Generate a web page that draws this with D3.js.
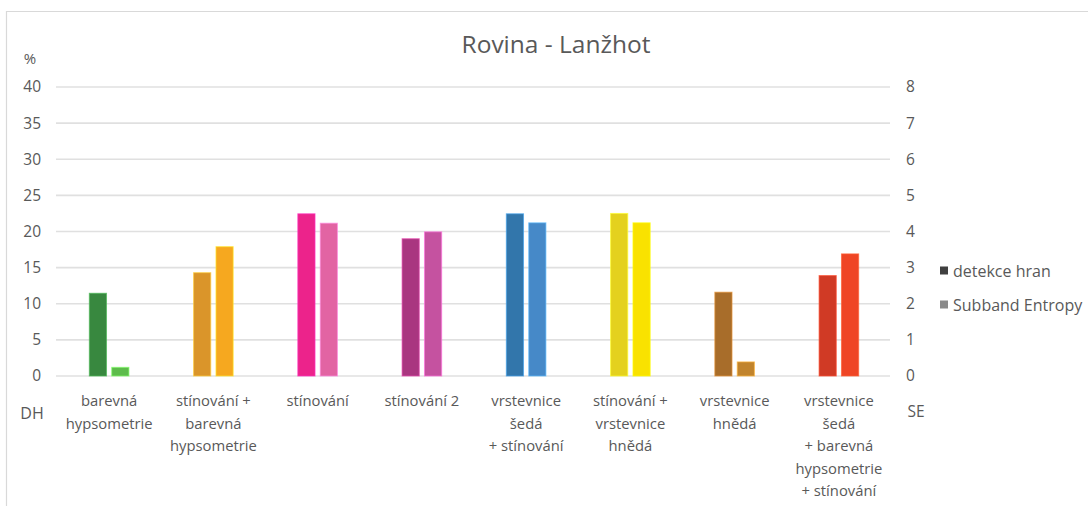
<!DOCTYPE html>
<html>
<head>
<meta charset="utf-8">
<script src="https://cdn.jsdelivr.net/npm/d3@7"></script>
<style>
  html, body { margin: 0; padding: 0; background: #ffffff; }
  svg { display: block; }
  text { font-family: "Open Sans", "Noto Sans", sans-serif; fill: #595959; }
</style>
</head>
<body>
<svg id="chart" width="1088" height="506"></svg>
<script>
// Categories (rendering methods), each split into display lines
const categories = [
  ["barevná", "hypsometrie"],
  ["stínování +", "barevná", "hypsometrie"],
  ["stínování"],
  ["stínování 2"],
  ["vrstevnice", "šedá", "+ stínování"],
  ["stínování +", "vrstevnice", "hnědá"],
  ["vrstevnice", "hnědá"],
  ["vrstevnice", "šedá", "+ barevná", "hypsometrie", "+ stínování"]
];

// Edge detection, in % (left axis)
const detekceHran = [11.45, 14.3, 22.45, 19.0, 22.45, 22.5, 11.6, 13.9];
// Subband entropy (right axis)
const subbandEntropy = [0.24, 3.58, 4.23, 3.99, 4.24, 4.24, 0.39, 3.38];

// Per-category colours: [detekce hran, Subband Entropy]
const darkColors  = ["#38883f", "#da952a", "#ec238b", "#a93680", "#3276ab", "#e4d11e", "#a86d2a", "#d03a25"];
const lightColors = ["#5dbc4b", "#f6a81f", "#e264a3", "#c552a0", "#4689c8", "#f9e200", "#c1842d", "#ef4525"];

const seriesNames = ["detekce hran", "Subband Entropy"];
const legendColors = ["#404040", "#8a8a8a"];

const leftTicks = [0, 5, 10, 15, 20, 25, 30, 35, 40];
const rightTicks = [0, 1, 2, 3, 4, 5, 6, 7, 8];

const svg = d3.select("#chart");

// Chart frame
svg.append("path")
  .attr("d", "M6.5,506 V11.5 H1088")
  .attr("fill", "none")
  .attr("stroke", "#d9d9d9")
  .attr("stroke-width", 1.2);

const plotLeft = 57, plotRight = 891, plotTop = 87, plotBottom = 376;

const x = d3.scaleBand()
  .domain(d3.range(categories.length))
  .range([plotLeft, plotRight])
  .paddingInner(0)
  .paddingOuter(0);

const yL = d3.scaleLinear().domain([0, 40]).range([plotBottom, plotTop]);
const yR = d3.scaleLinear().domain([0, 8]).range([plotBottom, plotTop]);

// Gridlines
svg.append("g")
  .selectAll("line")
  .data(leftTicks)
  .join("line")
  .attr("x1", plotLeft - 1)
  .attr("x2", plotRight - 1)
  .attr("y1", d => yL(d))
  .attr("y2", d => yL(d))
  .attr("stroke", "#e0e0e0")
  .attr("stroke-width", 1.6);

// Left axis
const leftAxis = svg.append("g")
  .attr("transform", `translate(${plotLeft - 16},0)`)
  .call(d3.axisLeft(yL).tickValues(leftTicks).tickSize(0).tickPadding(0));
leftAxis.select(".domain").remove();
leftAxis.selectAll("text")
  .style("font-size", "15.5px")
  .style("fill", "#595959");

// Right axis
const rightAxis = svg.append("g")
  .attr("transform", `translate(${plotRight + 15},0)`)
  .call(d3.axisRight(yR).tickValues(rightTicks).tickSize(0).tickPadding(0));
rightAxis.select(".domain").remove();
rightAxis.selectAll("text")
  .style("font-size", "15.5px")
  .style("fill", "#595959");

// Axis titles
svg.append("text").attr("x", 30).attr("y", 64).attr("text-anchor", "middle")
  .style("font-size", "15px").text("%");
svg.append("text").attr("x", 32).attr("y", 419).attr("text-anchor", "middle")
  .style("font-size", "16px").text("DH");
svg.append("text").attr("x", 916).attr("y", 417).attr("text-anchor", "middle")
  .style("font-size", "15.5px").text("SE");

// Title
svg.append("text")
  .attr("x", 556).attr("y", 53)
  .attr("text-anchor", "middle")
  .style("font-size", "24.5px")
  .text("Rovina - Lanžhot");

// Bars
const barW = 17.2;
const pairOffset = 22.4;
const pairWidth = pairOffset + barW;

const bars = svg.append("g");
categories.forEach((c, i) => {
  const left = x(i) + (x.bandwidth() - pairWidth) / 2;
  const specs = [
    { x0: left, top: yL(detekceHran[i]), color: darkColors[i] },
    { x0: left + pairOffset, top: yR(subbandEntropy[i]), color: lightColors[i] }
  ];
  specs.forEach(s => {
    bars.append("rect")
      .attr("x", s.x0)
      .attr("y", s.top)
      .attr("width", barW)
      .attr("height", plotBottom - s.top)
      .attr("fill", s.color)
      .attr("stroke", d3.color(s.color).brighter(0.9).formatHex())
      .attr("stroke-opacity", 0.7)
      .attr("stroke-width", 1);
  });
});

// Category labels
const labels = svg.append("g");
categories.forEach((lines, i) => {
  const t = labels.append("text")
    .attr("x", x(i) + x.bandwidth() / 2)
    .attr("y", 406)
    .attr("text-anchor", "middle")
    .style("font-size", "14.8px");
  lines.forEach((ln, j) => {
    t.append("tspan")
      .attr("x", x(i) + x.bandwidth() / 2)
      .attr("y", 406 + j * 22.6)
      .text(ln);
  });
});

// Legend
const legend = svg.append("g");
seriesNames.forEach((name, i) => {
  const ly = 271 + i * 34;
  legend.append("rect")
    .attr("x", 940).attr("y", ly - 4.5)
    .attr("width", 8).attr("height", 8)
    .attr("fill", legendColors[i]);
  legend.append("text")
    .attr("x", 953).attr("y", ly + 5.5)
    .style("font-size", "16px")
    .text(name);
});
</script>
</body>
</html>
